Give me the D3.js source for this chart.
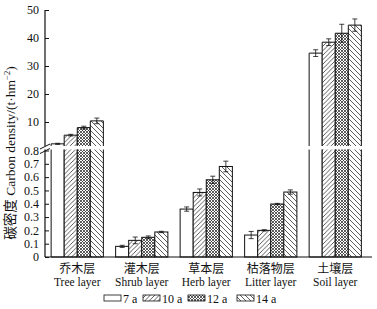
<!DOCTYPE html>
<html><head><meta charset="utf-8">
<script src="https://cdn.jsdelivr.net/npm/d3@7"></script>
<style>body{margin:0;background:#fff}svg{display:block}</style>
</head><body>
<script>
const categoriesZh = ["乔木层","灌木层","草本层","枯落物层","土壤层"];
const categoriesEn = ["Tree layer","Shrub layer","Herb layer","Litter layer","Soil layer"];
const seriesNames = ["7 a","10 a","12 a","14 a"];
const values7  = [2.2, 0.08, 0.36, 0.165, 34.6];
const values10 = [5.3, 0.125, 0.485, 0.20, 38.5];
const values12 = [8.0, 0.148, 0.58, 0.398, 41.7];
const values14 = [10.4, 0.188, 0.68, 0.488, 44.6];
const err7  = [0.2, 0.008, 0.016, 0.027, 1.2];
const err10 = [0.3, 0.025, 0.026, 0.005, 1.2];
const err12 = [0.5, 0.01, 0.027, 0.005, 3.2];
const err14 = [1.0, 0.005, 0.04, 0.016, 2.2];
const lowerTicks = [0,0.1,0.2,0.3,0.4,0.5,0.6,0.7,0.8];
const upperTicks = [10,20,30,40,50];

const seriesVals = [values7, values10, values12, values14];
const seriesErr = [err7, err10, err12, err14];

const W = 377, H = 309;
const svg = d3.select("body").append("svg").attr("width", W).attr("height", H);
const font = "'Liberation Serif','Times New Roman','Noto Sans CJK SC',serif";

// patterns
const defs = svg.append("defs");
function pat(id, draw, size) {
  const p = defs.append("pattern").attr("id", id).attr("patternUnits", "userSpaceOnUse")
    .attr("width", size).attr("height", size);
  p.append("rect").attr("width", size).attr("height", size).attr("fill", "#fff");
  draw(p, size);
}
pat("p10", (p, s) => {
  p.append("path").attr("d", `M0,${s} L${s},0 M${-s/2},${s/2} L${s/2},${-s/2} M${s/2},${s*1.5} L${s*1.5},${s/2}`)
    .attr("stroke", "#333").attr("stroke-width", 0.8);
}, 4.5);
pat("p12", (p, s) => {
  p.append("path").attr("d", `M0,${s} L${s},0 M${-s/2},${s/2} L${s/2},${-s/2} M${s/2},${s*1.5} L${s*1.5},${s/2} M0,0 L${s},${s} M${-s/2},${s/2} L${s/2},${s*1.5} M${s/2},${-s/2} L${s*1.5},${s/2}`)
    .attr("stroke", "#333").attr("stroke-width", 0.8);
}, 3);
pat("p14", (p, s) => {
  p.append("path").attr("d", `M0,0 L${s},${s} M${-s/2},${s/2} L${s/2},${s*1.5} M${s/2},${-s/2} L${s*1.5},${s/2}`)
    .attr("stroke", "#333").attr("stroke-width", 0.8);
}, 5);
const fills = ["#fff", "url(#p10)", "url(#p12)", "url(#p14)"];

const xLeft = 45, xRight = 372;
const x0 = d3.scaleBand().domain(categoriesEn).range([45, 367.5]).paddingInner(0.19).paddingOuter(0.095);
const x1 = d3.scaleBand().domain(seriesNames).range([0, x0.bandwidth()]);

const yLow = d3.scaleLinear().domain([0, 0.8]).range([257, 150.5]);
const lowTop = 149.5;
const yUp = d3.scaleLinear().domain([1, 50]).range([147.2, 10]);
const upBottom = 146;

const g = svg.append("g");

// bars
seriesNames.forEach((s, si) => {
  categoriesEn.forEach((c, ci) => {
    const v = seriesVals[si][ci], e = seriesErr[si][ci];
    const bx = x0(c) + x1(s), bw = x1.bandwidth();
    if (v <= 0.8) {
      g.append("rect").attr("x", bx).attr("y", yLow(v)).attr("width", bw).attr("height", yLow(0) - yLow(v))
        .attr("fill", fills[si]).attr("stroke", "#111").attr("stroke-width", 1);
      const yt = yLow(v + e), yb = yLow(v - e), cx = bx + bw / 2;
      g.append("path").attr("d", `M${cx},${yt}V${yb}M${cx-2.5},${yt}H${cx+2.5}M${cx-2.5},${yb}H${cx+2.5}`)
        .attr("stroke", "#111").attr("stroke-width", 0.8).attr("fill", "none");
    } else {
      g.append("rect").attr("x", bx).attr("y", lowTop).attr("width", bw).attr("height", yLow(0) - lowTop)
        .attr("fill", fills[si]).attr("stroke", "none");
      g.append("path").attr("d", `M${bx},${lowTop}V${yLow(0)}H${bx+bw}V${lowTop}`)
        .attr("fill", "none").attr("stroke", "#111").attr("stroke-width", 1);
      g.append("rect").attr("x", bx).attr("y", yUp(v)).attr("width", bw).attr("height", upBottom - yUp(v))
        .attr("fill", fills[si]).attr("stroke", "none");
      g.append("path").attr("d", `M${bx},${upBottom}V${yUp(v)}H${bx+bw}V${upBottom}`)
        .attr("fill", "none").attr("stroke", "#111").attr("stroke-width", 1);
      const yt = yUp(v + e), yb = Math.min(yUp(v - e), upBottom), cx = bx + bw / 2;
      g.append("path").attr("d", `M${cx},${yt}V${yb}M${cx-2.5},${yt}H${cx+2.5}M${cx-2.5},${yb}H${cx+2.5}`)
        .attr("stroke", "#111").attr("stroke-width", 0.8).attr("fill", "none");
    }
  });
});

// axes
const axLow = d3.axisLeft(yLow).tickValues(lowerTicks).tickSizeInner(-4).tickSizeOuter(0).tickPadding(6)
  .tickFormat(d => d === 0 ? "0" : d3.format(".1f")(d));
const axUp = d3.axisLeft(yUp).tickValues(upperTicks).tickSizeInner(-4).tickSizeOuter(0).tickPadding(6);
const gl = svg.append("g").attr("transform", `translate(${xLeft},0)`).call(axLow);
const gu = svg.append("g").attr("transform", `translate(${xLeft},0)`).call(axUp);
[gl, gu].forEach(a => {
  a.select(".domain").remove();
  a.selectAll("line").attr("stroke", "#111");
  a.selectAll("text").attr("font-family", font).attr("font-size", 12).attr("fill", "#111");
});
svg.append("path").attr("d", `M${xLeft},${yUp(50)}V${upBottom}M${xLeft},${lowTop}V${yLow(0)}`)
  .attr("stroke", "#111").attr("stroke-width", 1.2).attr("fill", "none");
// break marks
svg.append("path").attr("d", `M${xLeft-5},${upBottom+3} L${xLeft+5},${upBottom-2} M${xLeft-5},${lowTop+4} L${xLeft+5},${lowTop-1}`)
  .attr("stroke", "#111").attr("stroke-width", 1);

// x axis
svg.append("line").attr("x1", xLeft).attr("x2", xRight).attr("y1", yLow(0)).attr("y2", yLow(0))
  .attr("stroke", "#111").attr("stroke-width", 1.2);
categoriesEn.forEach((c, i) => {
  const cx = x0(c) + x0.bandwidth() / 2;
  svg.append("text").attr("x", cx).attr("y", 273).attr("text-anchor", "middle")
    .attr("font-family", font).attr("font-size", 12).attr("fill", "#111").text(categoriesZh[i]);
  svg.append("text").attr("x", cx).attr("y", 286).attr("text-anchor", "middle")
    .attr("font-family", font).attr("font-size", 11.5).attr("fill", "#111").text(c);
});

// y label
svg.append("text").attr("transform", "translate(15,153) rotate(-90)").attr("text-anchor", "middle")
  .attr("font-family", font).attr("font-size", 13.5).attr("fill", "#111")
  .html('碳密度 Carbon density/(t·hm<tspan dy="-5" font-size="8.5">−2</tspan><tspan dy="5">)</tspan>');

// legend
const legX = [104, 143, 188, 237];
seriesNames.forEach((s, i) => {
  svg.append("rect").attr("x", legX[i]).attr("y", 295).attr("width", 17).attr("height", 6)
    .attr("fill", fills[i]).attr("stroke", "#111").attr("stroke-width", 0.8);
  svg.append("text").attr("x", legX[i] + 19).attr("y", 302.5).attr("font-family", font).attr("font-size", 12)
    .attr("fill", "#111").text(s);
});
</script>
</body></html>
